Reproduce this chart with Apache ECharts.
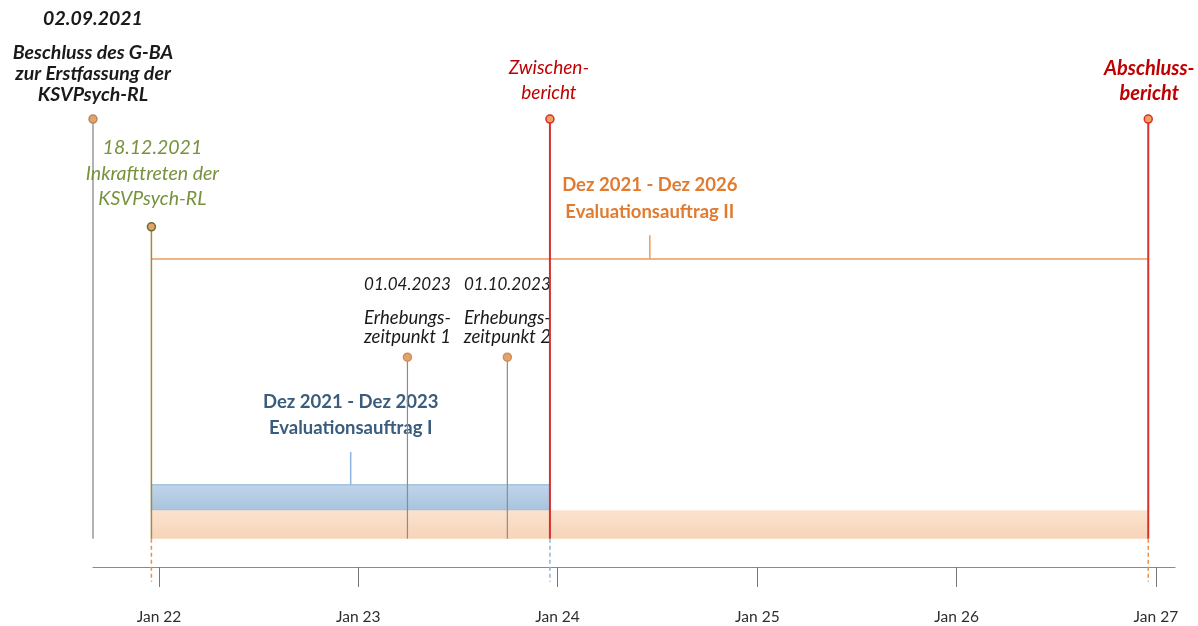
<!DOCTYPE html>
<html>
<head>
<meta charset="utf-8">
<script src="https://cdn.jsdelivr.net/npm/echarts@6/dist/echarts.min.js"></script>
<style>
  html, body { margin: 0; padding: 0; background: #fff; }
  #chart { width: 1198px; height: 626px; }
</style>
</head>
<body>
<div id="chart"></div>
<script>
// --- data ---
var eventDates = ['2021-09-02', '2021-12-18', '2023-04-01', '2023-10-01', '2023-12-18', '2026-12-18'];
var eventLevels = [79, 60, 37, 37, 79, 79];
var eventTitles = ['02.09.2021', '18.12.2021', '01.04.2023', '01.10.2023', '', ''];
var eventTexts = [
  'Beschluss des G-BA\nzur Erstfassung der\nKSVPsych-RL',
  'Inkrafttreten der\nKSVPsych-RL',
  'Erhebungs-\nzeitpunkt 1',
  'Erhebungs-\nzeitpunkt 2',
  'Zwischen-\nbericht',
  'Abschluss-\nbericht'
];

var phaseNames = ['Evaluationsauftrag I', 'Evaluationsauftrag II'];
var phasePeriods = ['Dez 2021 - Dez 2023', 'Dez 2021 - Dez 2026'];
var phaseStart = ['2021-12-18', '2021-12-18'];
var phaseEnd = ['2023-12-18', '2026-12-18'];

var tickYears = [2022, 2023, 2024, 2025, 2026, 2027];
var tickLabels = ['Jan 22', 'Jan 23', 'Jan 24', 'Jan 25', 'Jan 26', 'Jan 27'];

var axisMin = '2021-09-02';
var axisMax = '2027-02-05';

function d(s) {
  var p = s.split('-');
  return new Date(+p[0], +p[1] - 1, +p[2]).getTime();
}

var FONT = 'Lato';
var BASE = 5;     // bottom of the bars
var EXT = -2.6;   // end of the dashed lines below the axis

// look of each event (layout only)
var eventStyle = [
  { stem: '#9a9a9a', w: 1.5, dot: '#E3A36C', ring: '#B98A5E', dx: 0, color: '#1a1a1a', bold: true,
    size: 19.5, titleSize: 19.5, titleDy: -100, bodyDy: -66, lh: 21 },
  { stem: '#A08A42', w: 1.5, dot: '#E3A36C', ring: '#6E6A2E', dx: 1, color: '#76923C', bold: false,
    size: 19.5, titleSize: 19.5, titleDy: -79, bodyDy: -53, lh: 25, ext: '#E8914A' },
  { stem: '#8c8c8c', w: 1.2, dot: '#E3A36C', ring: '#D08F5A', dx: 0, color: '#1a1a1a', bold: false,
    size: 18.5, titleSize: 17, titleDy: -73, bodyDy: -39, lh: 19 },
  { stem: '#8c8c8c', w: 1.2, dot: '#E3A36C', ring: '#D08F5A', dx: 0, color: '#1a1a1a', bold: false,
    size: 18.5, titleSize: 17, titleDy: -73, bodyDy: -39, lh: 19 },
  { stem: '#D6302C', w: 2, dot: '#F2A060', ring: '#D6302C', dx: -1, color: '#C00000', bold: false,
    size: 19, titleSize: 19, titleDy: 0, bodyDy: -51, lh: 25, ext: '#8DB3E2' },
  { stem: '#D6302C', w: 2, dot: '#F2A060', ring: '#D6302C', dx: 1, color: '#C00000', bold: true,
    size: 20, titleSize: 20, titleDy: 0, bodyDy: -51, lh: 25, ext: '#E8914A' }
];

var phaseStyle = [
  { low: 10, high: 14.5, fill: ['#BFD5EA', '#A9C3DE'], border: '#8EB2D6', tick: '#8DB3E2',
    tickTop: 20.3, color: '#3A5C7D', textDy: [-50, -24] },
  { low: 5, high: 10, fill: ['#FBE3CF', '#F6D4B8'], border: null, tick: '#EC9A5A',
    bracket: 54.3, tickTop: 58.5, color: '#E07B30', textDy: [-50, -23] }
];

function font(st, size) {
  return 'italic ' + (st.bold ? 'bold ' : '') + size + 'px "' + FONT + '"';
}

function renderPhase(params, api) {
  var i = api.value(2);
  var st = phaseStyle[i];
  var x0 = api.coord([api.value(0), st.low])[0];
  var x1 = api.coord([api.value(1), st.low])[0];
  var yLow = api.coord([api.value(0), st.low])[1];
  var yHigh = api.coord([api.value(0), st.high])[1];
  var mid = (api.value(0) + api.value(1)) / 2;
  var children = [{
    type: 'rect',
    shape: { x: x0, y: yHigh, width: x1 - x0, height: yLow - yHigh },
    style: {
      fill: new echarts.graphic.LinearGradient(0, 0, 0, 1, [
        { offset: 0, color: st.fill[0] }, { offset: 1, color: st.fill[1] }
      ]),
      stroke: st.border, lineWidth: 1
    }
  }];
  var tickBase = st.high;
  if (st.bracket != null) {
    var yb = api.coord([api.value(0), st.bracket])[1];
    children.push({ type: 'line', shape: { x1: x0, y1: yb, x2: x1, y2: yb },
      style: { stroke: st.tick, lineWidth: 1.5 } });
    tickBase = st.bracket;
  }
  var pb = api.coord([mid, tickBase]);
  var pt = api.coord([mid, st.tickTop]);
  children.push({ type: 'line', shape: { x1: pb[0], y1: pb[1], x2: pt[0], y2: pt[1] },
    style: { stroke: st.tick, lineWidth: 1.5 } });
  [phasePeriods[i], phaseNames[i]].forEach(function (t, k) {
    children.push({ type: 'text', x: pt[0], y: pt[1] + st.textDy[k],
      style: { text: t, fill: st.color, font: 'bold 18.5px "' + FONT + '"', align: 'center', verticalAlign: 'middle' } });
  });
  return { type: 'group', children: children };
}

function renderEvent(params, api) {
  var i = api.value(2);
  var st = eventStyle[i];
  var top = api.coord([api.value(0), api.value(1)]);
  var base = api.coord([api.value(0), BASE]);
  var children = [];
  children.push({ type: 'line', shape: { x1: top[0], y1: top[1], x2: base[0], y2: base[1] },
    style: { stroke: st.stem, lineWidth: st.w } });
  if (st.ext) {
    var low = api.coord([api.value(0), EXT]);
    children.push({ type: 'line', shape: { x1: base[0], y1: base[1], x2: low[0], y2: low[1] },
      style: { stroke: st.ext, lineWidth: 1.5, lineDash: [4, 3] } });
  }
  children.push({ type: 'circle', shape: { cx: top[0], cy: top[1], r: 4 },
    style: { fill: st.dot, stroke: st.ring, lineWidth: 1.5 } });
  if (eventTitles[i]) {
    children.push({ type: 'text', x: top[0] + st.dx, y: top[1] + st.titleDy,
      style: { text: eventTitles[i], fill: st.color, font: font(st, st.titleSize), align: 'center', verticalAlign: 'middle' } });
  }
  eventTexts[i].split('\n').forEach(function (t, k) {
    children.push({ type: 'text', x: top[0] + st.dx, y: top[1] + st.bodyDy + k * st.lh,
      style: { text: t, fill: st.color, font: font(st, st.size), align: 'center', verticalAlign: 'middle' } });
  });
  return { type: 'group', children: children };
}

var chart = echarts.init(document.getElementById('chart'));
chart.setOption({
  animation: false,
  grid: { left: 93, right: 23, top: 0, bottom: 59 },
  xAxis: {
    type: 'time',
    min: d(axisMin),
    max: d(axisMax),
    minInterval: 365 * 24 * 3600 * 1000,
    maxInterval: 366 * 24 * 3600 * 1000,
    splitLine: { show: false },
    axisLine: { lineStyle: { color: '#8a8a8a', width: 1.2 } },
    axisTick: { show: true, length: 20, lineStyle: { color: '#777' } },
    axisLabel: {
      margin: 42,
      color: '#2e2e2e',
      fontSize: 15.5,
      fontFamily: FONT,
      showMinLabel: false,
      showMaxLabel: false,
      formatter: function (v) {
        var k = tickYears.indexOf(new Date(v).getFullYear());
        return k >= 0 ? tickLabels[k] : '';
      }
    }
  },
  yAxis: { type: 'value', min: 0, max: 100, show: false },
  series: [
    {
      type: 'custom',
      renderItem: renderPhase,
      encode: { x: [0, 1], y: 2 },
      data: phaseStart.map(function (s, i) { return [d(s), d(phaseEnd[i]), i]; }),
      z: 1
    },
    {
      type: 'custom',
      renderItem: renderEvent,
      encode: { x: 0, y: 1 },
      data: eventDates.map(function (s, i) { return [d(s), eventLevels[i], i]; }),
      z: 2
    }
  ]
});
</script>
</body>
</html>
